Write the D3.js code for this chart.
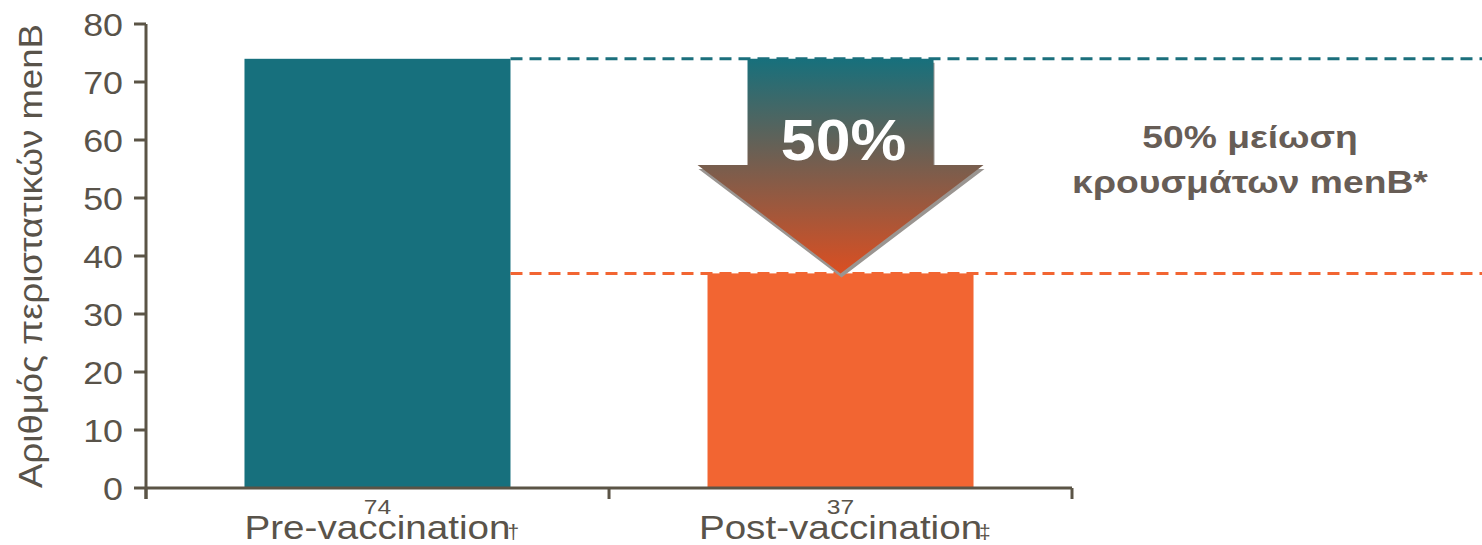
<!DOCTYPE html>
<html>
<head>
<meta charset="utf-8">
<script src="https://cdn.jsdelivr.net/npm/d3@7"></script>
<style>
  html, body { margin: 0; padding: 0; background: #ffffff; }
  svg { display: block; font-family: "Liberation Sans", Arial, sans-serif; }
</style>
</head>
<body>
<svg id="chart" width="1482" height="545"></svg>
<script>
// Chart data
const categories = ["Pre-vaccination", "Post-vaccination"];
const footnoteMarks = ["†", "‡"];
const caseCounts = [74, 37];
const yTicks = [0, 10, 20, 30, 40, 50, 60, 70, 80];
const yLabel = "Αριθμός περιστατικών menB";
const reductionLabel = "50%";
const noteLines = ["50% μείωση", "κρουσμάτων menB*"];

const barColors = ["#17707d", "#f26532"];
const axisColor = "#5b5446";
const textColor = "#59534a";

const svg = d3.select("#chart");
const W = 1482;
const plotLeft = 146, plotRight = 1072, plotTop = 24, plotBottom = 488;

const x = d3.scaleBand()
  .domain(categories)
  .range([plotLeft, plotRight])
  .paddingInner(0.4255)
  .paddingOuter(0.2127);

const y = d3.scaleLinear().domain([0, 80]).range([plotBottom, plotTop]);

// text placed at (px, py) and widened horizontally by sx
function placeText(g, px, py, sx) {
  return g.append("text").attr("transform", `translate(${px},${py}) scale(${sx},1)`);
}

// gradient for the arrow
const defs = svg.append("defs");
const grad = defs.append("linearGradient")
  .attr("id", "arrowGrad").attr("x1", 0).attr("y1", 0).attr("x2", 0).attr("y2", 1);
grad.append("stop").attr("offset", "0%").attr("stop-color", "#17707c");
grad.append("stop").attr("offset", "45%").attr("stop-color", "#6e5f52");
grad.append("stop").attr("offset", "100%").attr("stop-color", "#da4f22");

// bars
svg.append("g").selectAll("rect")
  .data(categories)
  .join("rect")
  .attr("x", d => x(d))
  .attr("y", (d, i) => y(caseCounts[i]))
  .attr("width", x.bandwidth())
  .attr("height", (d, i) => y(0) - y(caseCounts[i]))
  .attr("fill", (d, i) => barColors[i]);

// dashed reference lines at each level
svg.append("g").selectAll("line")
  .data(caseCounts)
  .join("line")
  .attr("x1", x(categories[0]) + x.bandwidth())
  .attr("x2", W)
  .attr("y1", d => y(d))
  .attr("y2", d => y(d))
  .attr("stroke", (d, i) => i === 0 ? "#1b6f7c" : "#f26532")
  .attr("stroke-width", 3)
  .attr("stroke-dasharray", "12,7");

// arrow from the first level to the second
const bw = x.bandwidth();
const cx = x(categories[1]) + bw / 2;
const shaftHalf = 93, headHalf = 143;
const yTop = y(caseCounts[0]), yTip = y(caseCounts[1]);
const yShoulder = y(55.7);
const arrowPts = [
  [cx - shaftHalf, yTop], [cx + shaftHalf, yTop], [cx + shaftHalf, yShoulder],
  [cx + headHalf, yShoulder], [cx, yTip], [cx - headHalf, yShoulder],
  [cx - shaftHalf, yShoulder]
];
const line = d3.line();
svg.append("path")
  .attr("d", line(arrowPts) + "Z")
  .attr("fill", "#9a9591")
  .attr("transform", "translate(1,4)");
svg.append("path")
  .attr("d", line(arrowPts) + "Z")
  .attr("fill", "url(#arrowGrad)");

placeText(svg, cx + 3, 160, 1.08)
  .attr("text-anchor", "middle")
  .attr("font-weight", "bold")
  .attr("font-size", 58)
  .attr("fill", "#ffffff")
  .text(reductionLabel);

// y axis
const yAxis = svg.append("g");
yAxis.append("line")
  .attr("x1", plotLeft).attr("x2", plotLeft).attr("y1", plotTop).attr("y2", plotBottom + 11)
  .attr("stroke", axisColor).attr("stroke-width", 3);
yAxis.selectAll("line.tick")
  .data(yTicks)
  .join("line")
  .attr("class", "tick")
  .attr("x1", plotLeft - 12).attr("x2", plotLeft)
  .attr("y1", d => y(d)).attr("y2", d => y(d))
  .attr("stroke", axisColor).attr("stroke-width", 3);
yTicks.forEach(t => {
  placeText(yAxis, 123, y(t) + 12, 1.12)
    .attr("text-anchor", "end")
    .attr("font-size", 32)
    .attr("fill", textColor)
    .text(t);
});

// x axis with boundary ticks
const xAxis = svg.append("g");
xAxis.append("line")
  .attr("x1", plotLeft).attr("x2", plotRight).attr("y1", plotBottom).attr("y2", plotBottom)
  .attr("stroke", axisColor).attr("stroke-width", 3);
const boundaries = [plotLeft, plotLeft + x.step(), plotRight];
xAxis.selectAll("line.tick")
  .data(boundaries)
  .join("line")
  .attr("class", "tick")
  .attr("x1", d => d).attr("x2", d => d)
  .attr("y1", plotBottom).attr("y2", plotBottom + 11)
  .attr("stroke", axisColor).attr("stroke-width", 3);

categories.forEach((c, i) => {
  const mid = x(c) + bw / 2;
  // value under the bar
  placeText(xAxis, mid, 514, 1.17)
    .attr("text-anchor", "middle")
    .attr("font-size", 21)
    .attr("fill", textColor)
    .text(caseCounts[i]);
  // category name
  const lbl = placeText(xAxis, mid, 539, 1.17)
    .attr("text-anchor", "middle")
    .attr("font-size", 33)
    .attr("fill", textColor)
    .text(c);
  const half = lbl.node().getComputedTextLength() * 1.17 / 2;
  // footnote mark
  placeText(xAxis, mid + half - 3, 539, 1)
    .attr("font-size", 21)
    .attr("fill", textColor)
    .text(footnoteMarks[i]);
});

// y axis title
const yTitle = svg.append("text")
  .attr("text-anchor", "middle")
  .attr("font-size", 34)
  .attr("fill", textColor)
  .text(yLabel);
const titleLen = yTitle.node().getComputedTextLength();
yTitle.attr("transform",
  `translate(42,${(plotTop + plotBottom) / 2}) rotate(-90) scale(${(plotBottom - plotTop) / titleLen},1)`);

// annotation
noteLines.forEach((t, i) => {
  placeText(svg, 1250, 148 + i * 45, 1.165)
    .attr("text-anchor", "middle")
    .attr("font-weight", "bold")
    .attr("font-size", 32)
    .attr("fill", "#675d56")
    .text(t);
});
</script>
</body>
</html>
